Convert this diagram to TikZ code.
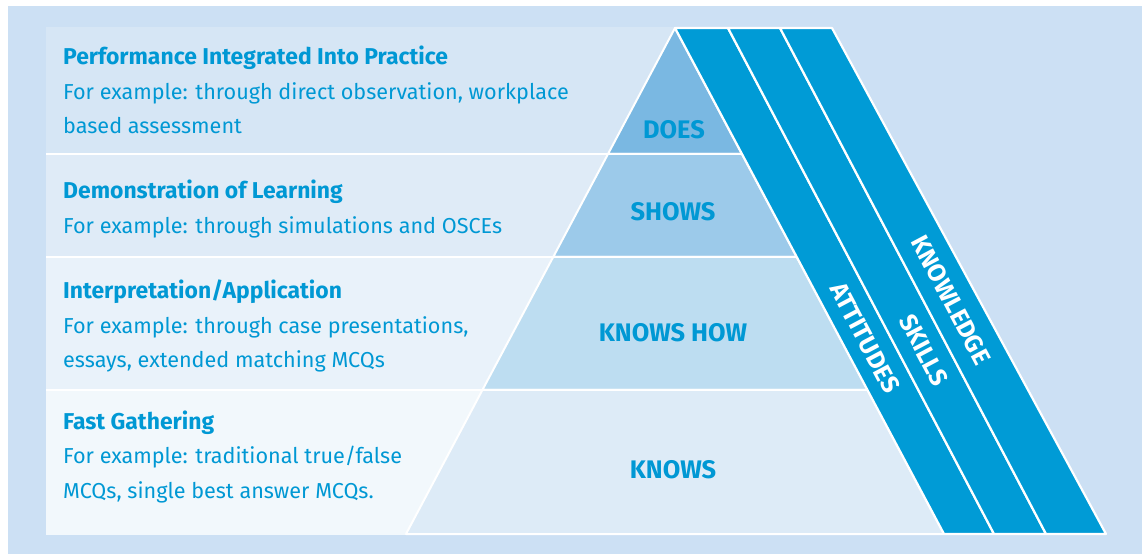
\documentclass[tikz,border=0pt]{standalone}
\usepackage{fontspec}
\setmainfont{Fira Sans}
\definecolor{bgc}{RGB}{204,224,244}
\definecolor{rowa}{RGB}{214,230,245}
\definecolor{rowb}{RGB}{223,235,247}
\definecolor{rowc}{RGB}{233,242,250}
\definecolor{rowd}{RGB}{242,248,252}
\definecolor{pya}{RGB}{122,184,226}
\definecolor{pyb}{RGB}{156,202,234}
\definecolor{pyc}{RGB}{189,221,241}
\definecolor{pyd}{RGB}{221,235,247}
\definecolor{stripec}{RGB}{0,155,214}
\definecolor{txtc}{RGB}{0,152,212}
\tikzset{
  rowtitle/.style={anchor=base west,inner sep=0pt,text=txtc,font=\fontsize{23}{26}\selectfont\bfseries},
  rowtext/.style={anchor=base west,inner sep=0pt,text=txtc,font=\fontsize{21.7}{26}\selectfont},
  levellabel/.style={anchor=base,inner sep=0pt,text=txtc,font=\fontsize{25.5}{28}\selectfont\bfseries},
  stripelabel/.style={inner sep=0pt,text=white,rotate=-62,font=\fontsize{25}{28}\selectfont\bfseries},
  level/.style={draw=white,line width=2bp,line join=round},
  stripebox/.style={fill=stripec,draw=white,line width=2.2bp,line join=round},
  sepline/.style={draw=white,line width=2.6bp}
}
\begin{document}
\begin{tikzpicture}[x=1bp,y=-1bp]
\useasboundingbox (0,0) rectangle (1142,554);
% background
\fill[bgc] (8,6) rectangle (1142,554);
% row panels
\fill[rowa] (46,27) rectangle (700,154);
\fill[rowb] (46,154) rectangle (700,257);
\fill[rowc] (46,257) rectangle (700,390);
\fill[rowd] (46,390) rectangle (700,535);
% pyramid levels
\path[level,fill=pya] (675,28) -- (742,154) -- (608,154) -- cycle;
\path[level,fill=pyb] (608,154) -- (742,154) -- (796.8,257) -- (553.2,257) -- cycle;
\path[level,fill=pyc] (553.2,257) -- (796.8,257) -- (867.6,390) -- (482.4,390) -- cycle;
\path[level,fill=pyd] (482.4,390) -- (867.6,390) -- (944,534) -- (406,534) -- cycle;
% separator lines
\draw[sepline] (46,154) -- (742,154);
\draw[sepline] (46,257) -- (796.8,257);
\draw[sepline] (46,390) -- (867.6,390);
% stripes
\path[stripebox] (675,28) -- (728,28) -- (994,534) -- (944,534) -- cycle;
\path[stripebox] (728,28) -- (780,28) -- (1046,534) -- (994,534) -- cycle;
\path[stripebox] (780,28) -- (832,28) -- (1106,534) -- (1046,534) -- cycle;
% stripe labels
\node[stripelabel] (att) at (865,338) {ATTITUDES};
\node[stripelabel] (ski) at (924,350) {SKILLS};
\node[stripelabel] (kno) at (951,300) {KNOWLEDGE};
% level labels
\node[levellabel] (does) at (674,139) {DOES};
\node[levellabel] (shows) at (673,221) {SHOWS};
\node[levellabel] (knowshow) at (673,342) {KNOWS HOW};
\node[levellabel] (knows) at (673,478) {KNOWS};
% row texts
\node[rowtitle] (t1) at (63,65) {Performance Integrated Into Practice};
\node[rowtext] (t1a) at (63,99.5) {For example: through direct observation, workplace};
\node[rowtext] (t1b) at (63,134) {based assessment};
\node[rowtitle] (t2) at (63,199) {Demonstration of Learning};
\node[rowtext] (t2a) at (63,233.5) {For example: through simulations and OSCEs};
\node[rowtitle] (t3) at (63,299) {Interpretation/Application};
\node[rowtext] (t3a) at (63,333.5) {For example: through case presentations,};
\node[rowtext] (t3b) at (63,368) {essays, extended matching MCQs};
\node[rowtitle] (t4) at (63,429) {Fast Gathering};
\node[rowtext] (t4a) at (63,463.5) {For example: traditional true/false};
\node[rowtext] (t4b) at (63,498) {MCQs, single best answer MCQs.};
\end{tikzpicture}
\end{document}
